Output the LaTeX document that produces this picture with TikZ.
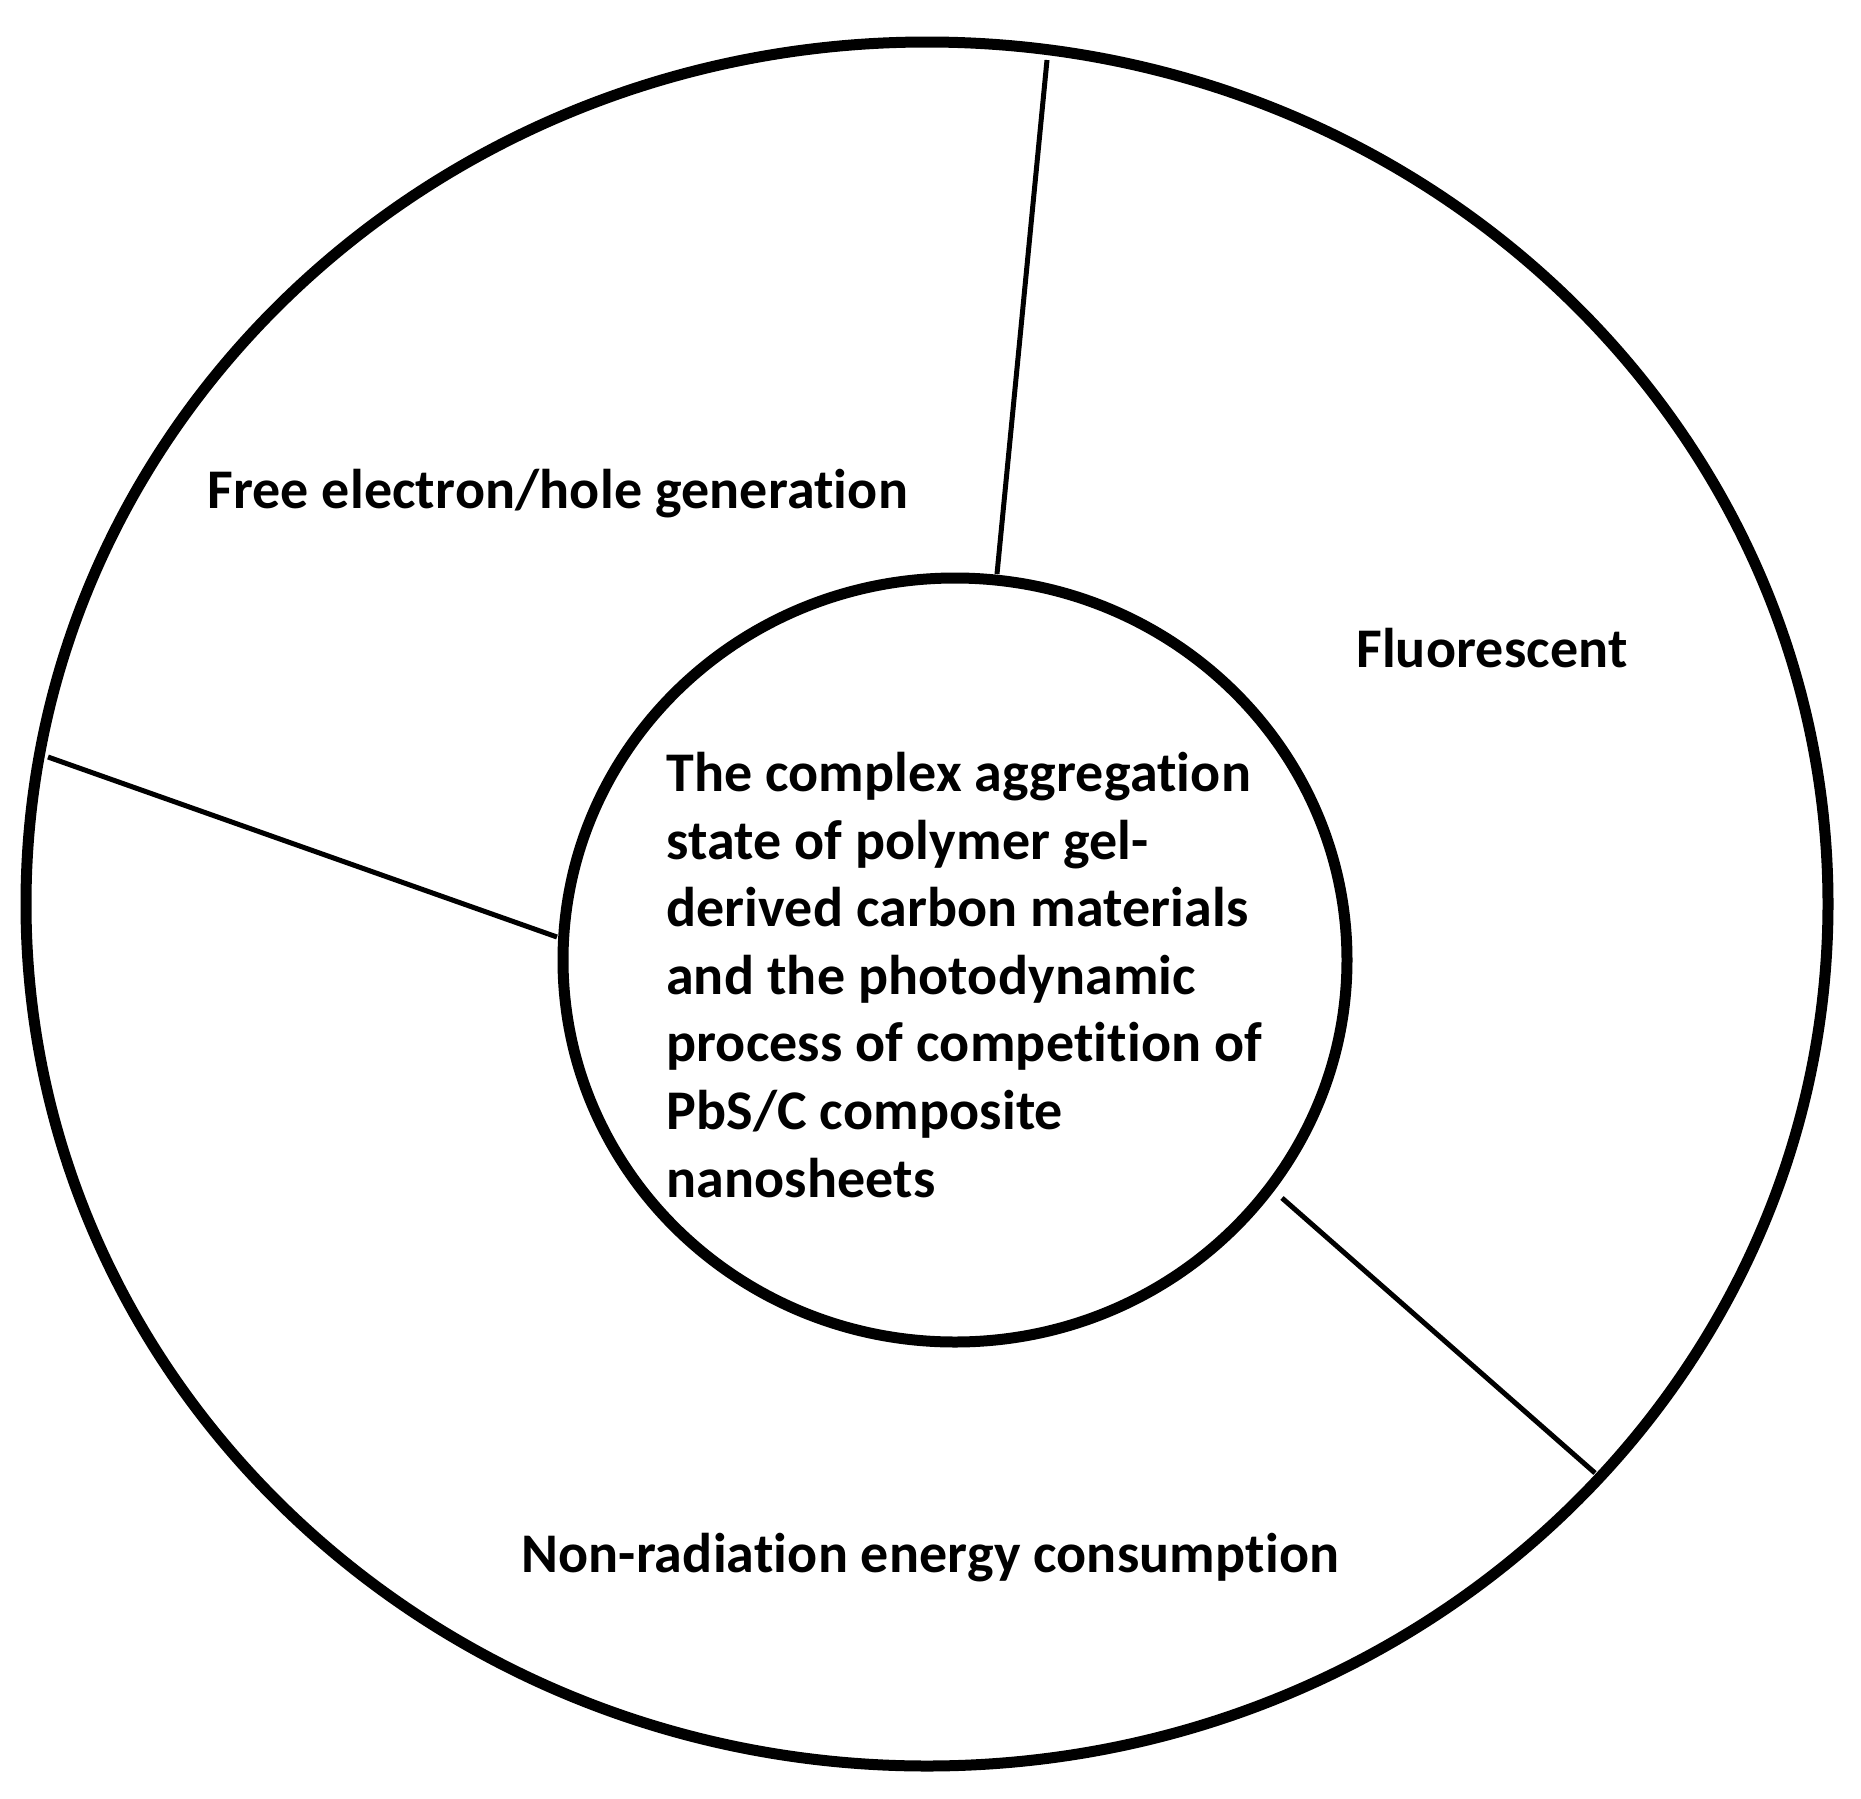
\documentclass[tikz,border=0pt]{standalone}
\usepackage{fontspec}
\setmainfont{Carlito}[RawFeature={-liga}, LetterSpace=0.3]
\usetikzlibrary{shapes.geometric}
\tikzset{
  ring/.style={draw, ellipse, line width=11pt, inner sep=0pt, outer sep=0pt},
  divider/.style={line width=5pt},
  label/.style={font=\fontsize{56}{67.6}\selectfont\bfseries, inner sep=0pt}
}
\begin{document}
\begin{tikzpicture}[x=1pt,y=-1pt]
\useasboundingbox (0,0) rectangle (1861,1799);
\node[ring, minimum width=1802pt, minimum height=1724pt] (outer) at (927,904) {};
\node[ring, minimum width=784pt, minimum height=764pt] (inner) at (955,960) {};
\node[label, anchor=north west, align=left] (centre) at (666,752)
  {The complex aggregation\\state of polymer gel-\\derived carbon materials\\and the photodynamic\\process of competition of\\PbS/C composite\\nanosheets};
\node[label, anchor=west] (free) at (207,494) {Free electron/hole generation};
\node[label, anchor=west] (fluo) at (1356,648) {Fluorescent};
\node[label, anchor=west] (nonrad) at (521,1558) {Non-radiation energy consumption};
\coordinate (a1) at (1047,60);
\coordinate (a2) at (997,574);
\coordinate (b1) at (48,757);
\coordinate (b2) at (557,937);
\coordinate (c1) at (1282,1198);
\coordinate (c2) at (1595,1473);
\draw[divider] (a1) -- (a2);
\draw[divider] (b1) -- (b2);
\draw[divider] (c1) -- (c2);
\end{tikzpicture}
\end{document}
